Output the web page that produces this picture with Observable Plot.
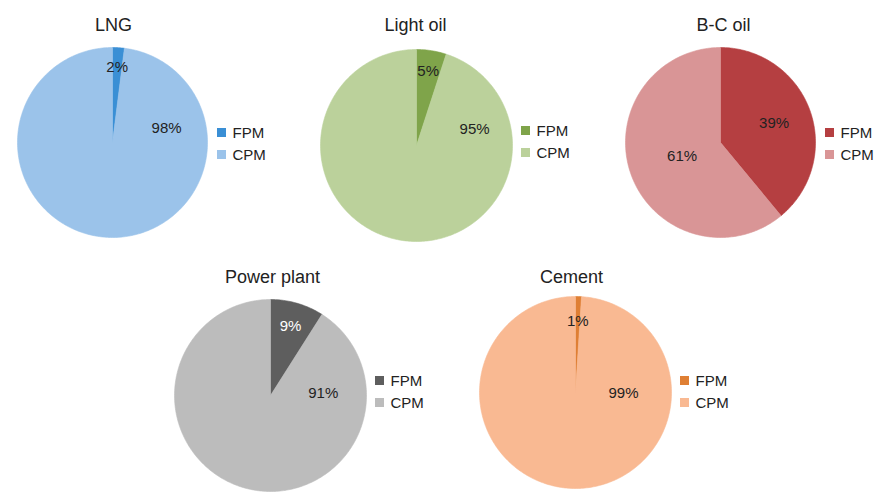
<!DOCTYPE html>
<html><head><meta charset="utf-8">
<script src="https://cdn.jsdelivr.net/npm/d3@7"></script>
<script src="https://cdn.jsdelivr.net/npm/@observablehq/plot@0.6"></script>
<style>body{margin:0;background:#fff}</style>
</head><body><div id="chart"></div>
<script>
// ---- data ----
const sources = ["LNG", "Light oil", "B-C oil", "Power plant", "Cement"];
const fractions = ["FPM", "CPM"];
const fpmShare = [2, 5, 39, 9, 1];
const cpmShare = [98, 95, 61, 91, 99];

// ---- styles ----
const palette = {
  "LNG":         ["#3a8fd5", "#9bc3ea"],
  "Light oil":   ["#7fa44a", "#bbd19b"],
  "B-C oil":     ["#b53f41", "#d99596"],
  "Power plant": ["#5e5e5e", "#bcbcbc"],
  "Cement":      ["#df7f34", "#f9b992"]
};
const labelInk = {"Power plant": ["#ffffff", "#222222"]};
const ink = "#222222";

// ---- layout (pixels) ----
const W = 886, H = 499;
const layout = {
  "LNG":         {cx: 112, cy: 142, r: 95, tx: 113, ty: 25,  ly: 132.5, lab: [[null, 0.79], [75, 0.59]]},
  "Light oil":   {cx: 416, cy: 145, r: 96, tx: 415, ty: 25,  ly: 130.5, lab: [[null, 0.78], [74, 0.63]]},
  "B-C oil":     {cx: 720, cy: 142, r: 95, tx: 723, ty: 25,  ly: 132.5, lab: [[null, 0.60], [null, 0.43]]},
  "Power plant": {cx: 270, cy: 395, r: 96, tx: 272, ty: 277, ly: 380.5, lab: [[null, 0.75], [88, 0.55]]},
  "Cement":      {cx: 575, cy: 392, r: 96, tx: 571, ty: 277, ly: 380.5, lab: [[null, 0.74], [91, 0.50]]}
};
const legendDx = 105, legendGap = 22, swatch = 9, legendTextDx = 15;

// ---- build geometry from the data ----
const pie = d3.pie().sort(null).value(d => d.value);
const polys = [], labels = [], titles = [], swatches = [], legendText = [];
sources.forEach((src, i) => {
  const L = layout[src];
  const slices = pie(fractions.map((f, k) => ({fraction: f, value: k === 0 ? fpmShare[i] : cpmShare[i]})));
  slices.forEach((s, k) => {
    const key = src + "-" + s.data.fraction;
    const color = palette[src][k];
    const pt = a => ({x: L.cx + L.r * Math.sin(a), y: L.cy - L.r * Math.cos(a), key, color});
    polys.push({x: L.cx, y: L.cy, key, color});
    const n = Math.max(2, Math.ceil((s.endAngle - s.startAngle) / (Math.PI / 180)));
    for (let j = 0; j <= n; j++) polys.push(pt(s.startAngle + (s.endAngle - s.startAngle) * j / n));
    polys.push({x: L.cx, y: L.cy, key, color});
    const [angDeg, frac] = L.lab[k];
    const a = angDeg == null ? (s.startAngle + s.endAngle) / 2 : angDeg * Math.PI / 180;
    labels.push({
      x: L.cx + frac * L.r * Math.sin(a),
      y: L.cy - frac * L.r * Math.cos(a),
      text: s.data.value + "%",
      fill: (labelInk[src] || [ink, ink])[k]
    });
    swatches.push({
      x1: L.cx + legendDx, x2: L.cx + legendDx + swatch,
      y1: L.ly + k * legendGap - swatch / 2, y2: L.ly + k * legendGap + swatch / 2,
      color
    });
    legendText.push({x: L.cx + legendDx + legendTextDx, y: L.ly + k * legendGap, text: s.data.fraction});
  });
  titles.push({x: L.tx, y: L.ty, text: src});
});

const chart = Plot.plot({
  width: W, height: H,
  margin: 0,
  x: {domain: [0, W], range: [0, W], axis: null},
  y: {domain: [0, H], range: [0, H], axis: null},
  color: {type: "identity"},
  style: {fontFamily: "'Liberation Sans', Arial, Helvetica, sans-serif", background: "#fff", color: ink},
  marks: [
    Plot.line(polys, {x: "x", y: "y", z: "key", fill: "color", stroke: "color", strokeWidth: 0.6, curve: "linear"}),
    Plot.text(labels, {x: "x", y: "y", text: "text", fill: "fill", fontSize: 15, textAnchor: "middle"}),
    Plot.text(titles, {x: "x", y: "y", text: "text", fill: ink, fontSize: 18, textAnchor: "middle"}),
    Plot.rect(swatches, {x1: "x1", x2: "x2", y1: "y1", y2: "y2", fill: "color"}),
    Plot.text(legendText, {x: "x", y: "y", text: "text", fill: ink, fontSize: 15, textAnchor: "start"})
  ]
});
document.getElementById("chart").appendChild(chart);
</script>
</body></html>
